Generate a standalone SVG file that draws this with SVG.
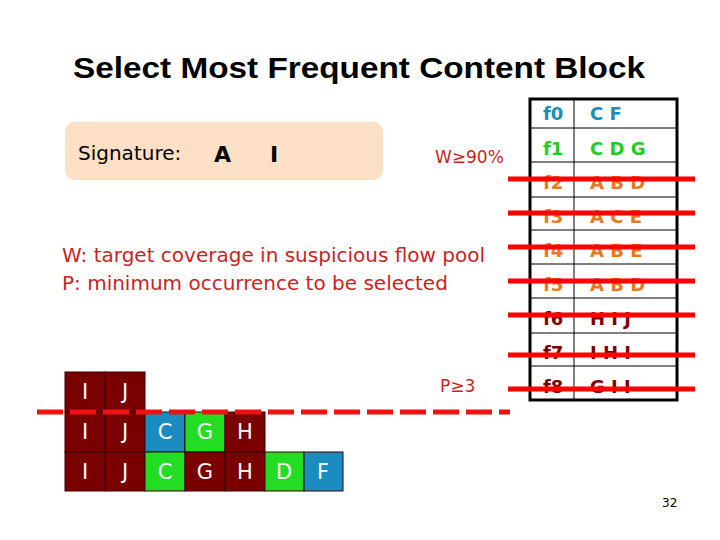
<svg xmlns="http://www.w3.org/2000/svg" width="720" height="540" viewBox="0 0 720 540">
<style>
text{font-family:"DejaVu Sans","Liberation Sans",sans-serif}
.title{font-family:"Liberation Sans",Arial,sans-serif;font-weight:bold;font-size:30px;fill:#000}
.red{fill:#cc1f1f}
.tb{font-size:18px;font-weight:bold}
.blue{fill:#1a8cc0}.green{fill:#22cc22}.orange{fill:#e87820}.dred{fill:#800000}
.blk{stroke:#3a0000;stroke-width:1}
.bt{font-size:21px;fill:#fff;text-anchor:middle}
.strike{stroke:#ff0000;stroke-width:5}
.grid{stroke:#000;stroke-width:1}
</style>
<rect width="720" height="540" fill="#fff"/>
<text class="title" x="73" y="78" textLength="572" lengthAdjust="spacingAndGlyphs">Select Most Frequent Content Block</text>

<g id="signature">
<rect x="65" y="122" width="318" height="58" rx="9" fill="#fde0c6"/>
<text x="78" y="160" font-size="20" fill="#000">Signature:</text>
<text x="214" y="162" font-size="22" font-weight="bold" fill="#000">A</text>
<text x="270" y="162" font-size="22" font-weight="bold" fill="#000">I</text>
</g>
<text class="red" x="435" y="163" font-size="17">W≥90%</text>
<text class="red" x="62" y="262" font-size="20">W: target coverage in suspicious flow pool</text>
<text class="red" x="62" y="290" font-size="20">P: minimum occurrence to be selected</text>
<text class="red" x="440" y="392" font-size="17">P≥3</text>

<g id="table">
<rect x="530" y="99" width="147" height="301" fill="none" stroke="#000" stroke-width="3"/>
<line class="grid" x1="574" y1="99" x2="574" y2="400"/>
<line class="grid" x1="530" y1="128" x2="677" y2="128"/>
<line class="grid" x1="530" y1="162" x2="677" y2="162"/>
<line class="grid" x1="530" y1="197" x2="677" y2="197"/>
<line class="grid" x1="530" y1="230" x2="677" y2="230"/>
<line class="grid" x1="530" y1="264" x2="677" y2="264"/>
<line class="grid" x1="530" y1="298" x2="677" y2="298"/>
<line class="grid" x1="530" y1="333" x2="677" y2="333"/>
<line class="grid" x1="530" y1="366" x2="677" y2="366"/>
<g class="tb">
<text class="blue" x="543" y="120">f0</text><text class="blue" x="590" y="120">C F</text>
<text class="green" x="543" y="155">f1</text><text class="green" x="590" y="155">C D G</text>
<text class="orange" x="543" y="189">f2</text><text class="orange" x="590" y="189">A B D</text>
<text class="orange" x="543" y="223">f3</text><text class="orange" x="590" y="223">A C E</text>
<text class="orange" x="543" y="257">f4</text><text class="orange" x="590" y="257">A B E</text>
<text class="orange" x="543" y="291">f5</text><text class="orange" x="590" y="291">A B D</text>
<text class="dred" x="543" y="325">f6</text><text class="dred" x="590" y="325">H I J</text>
<text class="dred" x="543" y="359">f7</text><text class="dred" x="590" y="359">I H I</text>
<text class="dred" x="543" y="393">f8</text><text class="dred" x="590" y="393">G I I</text>
</g>
<line class="strike" x1="508" y1="179" x2="695" y2="179"/>
<line class="strike" x1="508" y1="213" x2="695" y2="213"/>
<line class="strike" x1="508" y1="247" x2="695" y2="247"/>
<line class="strike" x1="508" y1="281" x2="695" y2="281"/>
<line class="strike" x1="508" y1="315" x2="695" y2="315"/>
<line class="strike" x1="508" y1="355" x2="695" y2="355"/>
<line class="strike" x1="508" y1="389" x2="695" y2="389"/>
</g>

<g id="blocks">
<rect class="blk" x="65" y="372" width="40" height="40" fill="#7a0000"/><text class="bt" x="85" y="399">I</text>
<rect class="blk" x="105" y="372" width="40" height="40" fill="#7a0000"/><text class="bt" x="125" y="399">J</text>

<rect class="blk" x="65" y="412" width="40" height="40" fill="#7a0000"/><text class="bt" x="85" y="439">I</text>
<rect class="blk" x="105" y="412" width="40" height="40" fill="#7a0000"/><text class="bt" x="125" y="439">J</text>
<rect class="blk" x="145" y="412" width="40" height="40" fill="#1a8cc0"/><text class="bt" x="165" y="439">C</text>
<rect class="blk" x="185" y="412" width="40" height="40" fill="#22dd22"/><text class="bt" x="205" y="439">G</text>
<rect class="blk" x="225" y="412" width="40" height="40" fill="#7a0000"/><text class="bt" x="245" y="439">H</text>

<rect class="blk" x="65" y="452" width="40" height="39" fill="#7a0000"/><text class="bt" x="85" y="479">I</text>
<rect class="blk" x="105" y="452" width="40" height="39" fill="#7a0000"/><text class="bt" x="125" y="479">J</text>
<rect class="blk" x="145" y="452" width="40" height="39" fill="#22dd22"/><text class="bt" x="165" y="479">C</text>
<rect class="blk" x="185" y="452" width="40" height="39" fill="#7a0000"/><text class="bt" x="205" y="479">G</text>
<rect class="blk" x="225" y="452" width="40" height="39" fill="#7a0000"/><text class="bt" x="245" y="479">H</text>
<rect class="blk" x="265" y="452" width="39" height="39" fill="#22dd22"/><text class="bt" x="284" y="479">D</text>
<rect class="blk" x="304" y="452" width="39" height="39" fill="#1a8cc0"/><text class="bt" x="323" y="479">F</text>
</g>

<g id="connectors">
<line x1="37" y1="412" x2="510" y2="412" stroke="#ee1111" stroke-width="5" stroke-dasharray="26 7"/>
</g>

<text x="662" y="507" font-size="12" fill="#000">32</text>
</svg>
